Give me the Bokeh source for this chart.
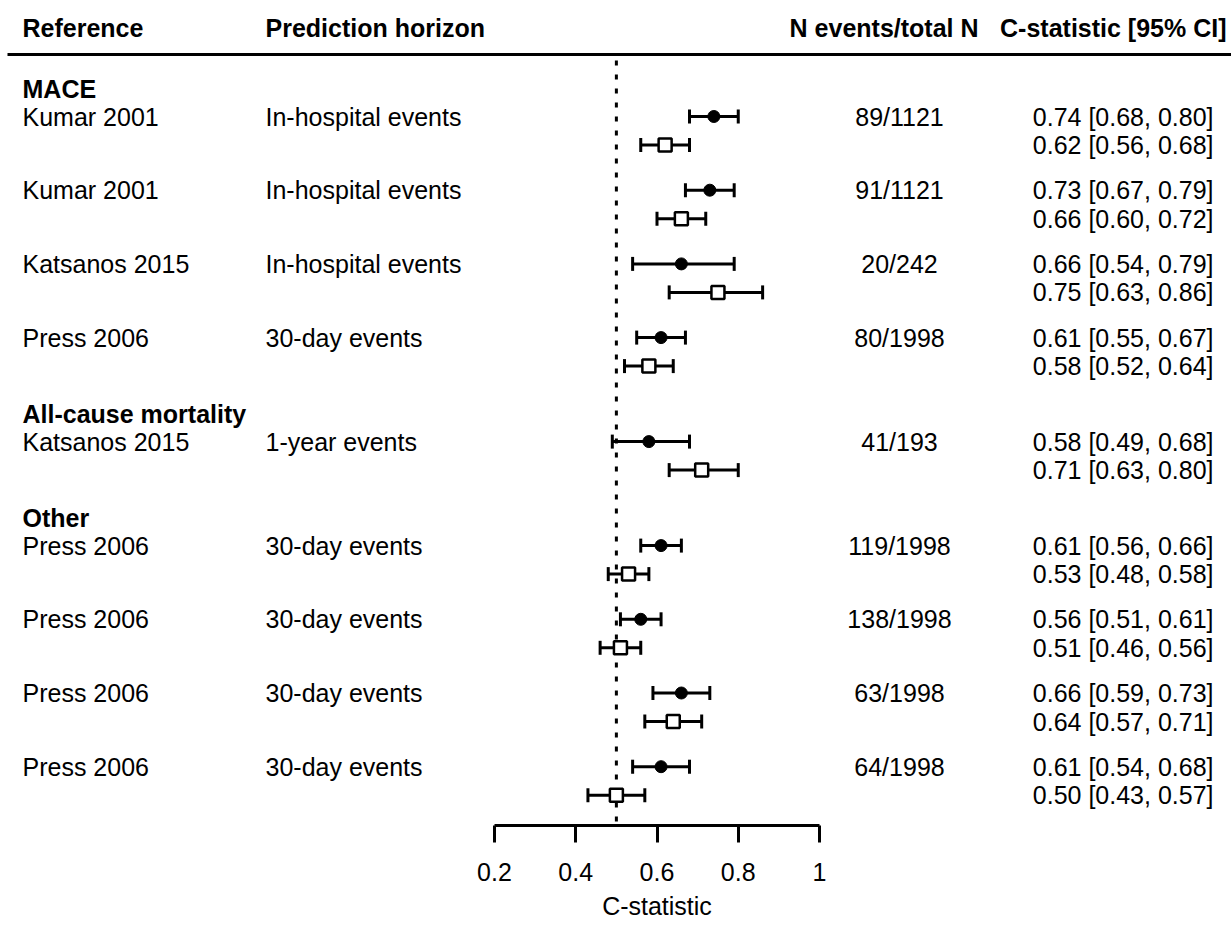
from bokeh.plotting import figure
from bokeh.models import ColumnDataSource, Range1d, FixedTicker, Whisker, TeeHead, Title
from bokeh.core.properties import value
from bokeh.embed import file_html
from bokeh.resources import INLINE

# ---------------- data ----------------
groups = ["MACE", "All-cause mortality", "Other"]
study_group = [0, 0, 0, 0, 1, 2, 2, 2, 2]
references = ["Kumar 2001", "Kumar 2001", "Katsanos 2015", "Press 2006", "Katsanos 2015",
              "Press 2006", "Press 2006", "Press 2006", "Press 2006"]
horizons = ["In-hospital events", "In-hospital events", "In-hospital events", "30-day events",
            "1-year events", "30-day events", "30-day events", "30-day events", "30-day events"]
n_events = ["89/1121", "91/1121", "20/242", "80/1998", "41/193",
            "119/1998", "138/1998", "63/1998", "64/1998"]
c1 = [0.74, 0.73, 0.66, 0.61, 0.58, 0.61, 0.56, 0.66, 0.61]
c1_lo = [0.68, 0.67, 0.54, 0.55, 0.49, 0.56, 0.51, 0.59, 0.54]
c1_hi = [0.80, 0.79, 0.79, 0.67, 0.68, 0.66, 0.61, 0.73, 0.68]
c2 = [0.62, 0.66, 0.75, 0.58, 0.71, 0.53, 0.51, 0.64, 0.50]
c2_lo = [0.56, 0.60, 0.63, 0.52, 0.63, 0.48, 0.46, 0.57, 0.43]
c2_hi = [0.68, 0.72, 0.86, 0.64, 0.80, 0.58, 0.56, 0.71, 0.57]
tick_values = [0.2, 0.4, 0.6, 0.8, 1.0]
tick_labels = ["0.2", "0.4", "0.6", "0.8", "1"]
headers = ["Reference", "Prediction horizon", "N events/total N", "C-statistic [95% CI]"]
x_label = "C-statistic"
ref_value = 0.5

# ---------------- layout ----------------
W, H = 1231, 926
FRAME_H = 825
PX_PER_UNIT = 406.25
X0 = 0.2 - 494 / PX_PER_UNIT


def px(xp):
    return X0 + xp / PX_PER_UNIT


FONT = value("Liberation Sans")
FS = "25px"

# vertical layout (y measured downward)
header_y = 27
y = 88.0
group_y = {}
row_y = []
prev_group = None
for g in study_group:
    if g != prev_group:
        if prev_group is not None:
            y += 76.0
        group_y[g] = y
        y += 28.0
        prev_group = g
    else:
        y += 73.7
    row_y.append(y)
row_y2 = [v + 28.5 for v in row_y]

p = figure(width=W, height=H, output_backend="svg", toolbar_location=None,
           x_range=Range1d(X0, X0 + W / PX_PER_UNIT), y_range=Range1d(FRAME_H, 0),
           min_border_left=0, min_border_right=0, min_border_top=0, min_border_bottom=H - FRAME_H,
           y_axis_location=None, outline_line_color=None,
           background_fill_color="white", border_fill_color="white")
p.grid.visible = False

# header line
p.segment(x0=[px(7)], y0=[54], x1=[px(1231)], y1=[54], line_width=3, line_color="black")

# reference dotted line
p.segment(x0=[ref_value], y0=[60], x1=[ref_value], y1=[FRAME_H], line_width=3,
          line_color="black", line_dash="5 9")

# header texts
p.text(x=[px(22), px(265)], y=[header_y] * 2, text=headers[:2], text_font=FONT,
       text_font_size=FS, text_font_style="bold", text_align="left", text_baseline="middle")
p.text(x=[px(978), px(1226)], y=[header_y] * 2, text=headers[2:], text_font=FONT,
       text_font_size=FS, text_font_style="bold", text_align="right", text_baseline="middle")

# group labels
p.text(x=[px(22)] * len(groups), y=[group_y[i] for i in range(len(groups))], text=groups,
       text_font=FONT, text_font_size=FS, text_font_style="bold", text_align="left",
       text_baseline="middle")

src = ColumnDataSource(dict(
    y1=row_y, y2=row_y2, ref=references, hor=horizons, n=n_events,
    c1=c1, lo1=c1_lo, hi1=c1_hi, c2=c2, lo2=c2_lo, hi2=c2_hi,
    lab1=[f"{a:.2f} [{b:.2f}, {c:.2f}]" for a, b, c in zip(c1, c1_lo, c1_hi)],
    lab2=[f"{a:.2f} [{b:.2f}, {c:.2f}]" for a, b, c in zip(c2, c2_lo, c2_hi)],
    xr=[px(22)] * len(c1), xh=[px(265)] * len(c1), xn=[px(899)] * len(c1),
    xc=[px(1213)] * len(c1),
))

p.text(x="xr", y="y1", text="ref", source=src, text_font=FONT, text_font_size=FS,
       text_align="left", text_baseline="middle", text_color="black")
p.text(x="xh", y="y1", text="hor", source=src, text_font=FONT, text_font_size=FS,
       text_align="left", text_baseline="middle", text_color="black")
p.text(x="xn", y="y1", text="n", source=src, text_font=FONT, text_font_size=FS,
       text_align="center", text_baseline="middle", text_color="black")
p.text(x="xc", y="y1", text="lab1", source=src, text_font=FONT, text_font_size=FS,
       text_align="right", text_baseline="middle", text_color="black")
p.text(x="xc", y="y2", text="lab2", source=src, text_font=FONT, text_font_size=FS,
       text_align="right", text_baseline="middle", text_color="black")

# error bars
for base, lo, hi in (("y1", "lo1", "hi1"), ("y2", "lo2", "hi2")):
    w = Whisker(source=src, base=base, lower=lo, upper=hi, dimension="width",
                line_width=3, line_color="black",
                lower_head=TeeHead(size=14, line_width=3, line_color="black"),
                upper_head=TeeHead(size=14, line_width=3, line_color="black"))
    p.add_layout(w)

p.scatter(x="c1", y="y1", source=src, marker="circle", size=12, fill_color="black",
          line_color="black", line_width=1, level="overlay")
p.scatter(x="c2", y="y2", source=src, marker="square", size=13, fill_color="white",
          line_color="black", line_width=2.5, level="overlay")

# x axis
ax = p.xaxis[0]
ax.ticker = FixedTicker(ticks=tick_values, minor_ticks=[])
ax.bounds = (tick_values[0], tick_values[-1])
ax.major_label_overrides = {v: s for v, s in zip(tick_values, tick_labels)}
ax.axis_line_width = 3
ax.axis_line_color = "black"
ax.major_tick_line_width = 3
ax.major_tick_line_color = "black"
ax.major_tick_out = 17
ax.major_tick_in = 0
ax.minor_tick_out = 0
ax.major_label_standoff = 20
ax.major_label_text_font = "Liberation Sans"
ax.major_label_text_font_size = FS
ax.major_label_text_color = "black"

# axis title, centred under the axis bounds (0.2 .. 1)
label_center_px = (494 + 819) / 2
label_width_px = 4.389 * 25
p.add_layout(Title(text=x_label, align="left", offset=label_center_px - label_width_px / 2,
                   text_font="Liberation Sans", text_font_size=FS, text_font_style="normal",
                   text_color="black", standoff=13), "below")

open("out.html", "w").write(file_html(p, INLINE))
